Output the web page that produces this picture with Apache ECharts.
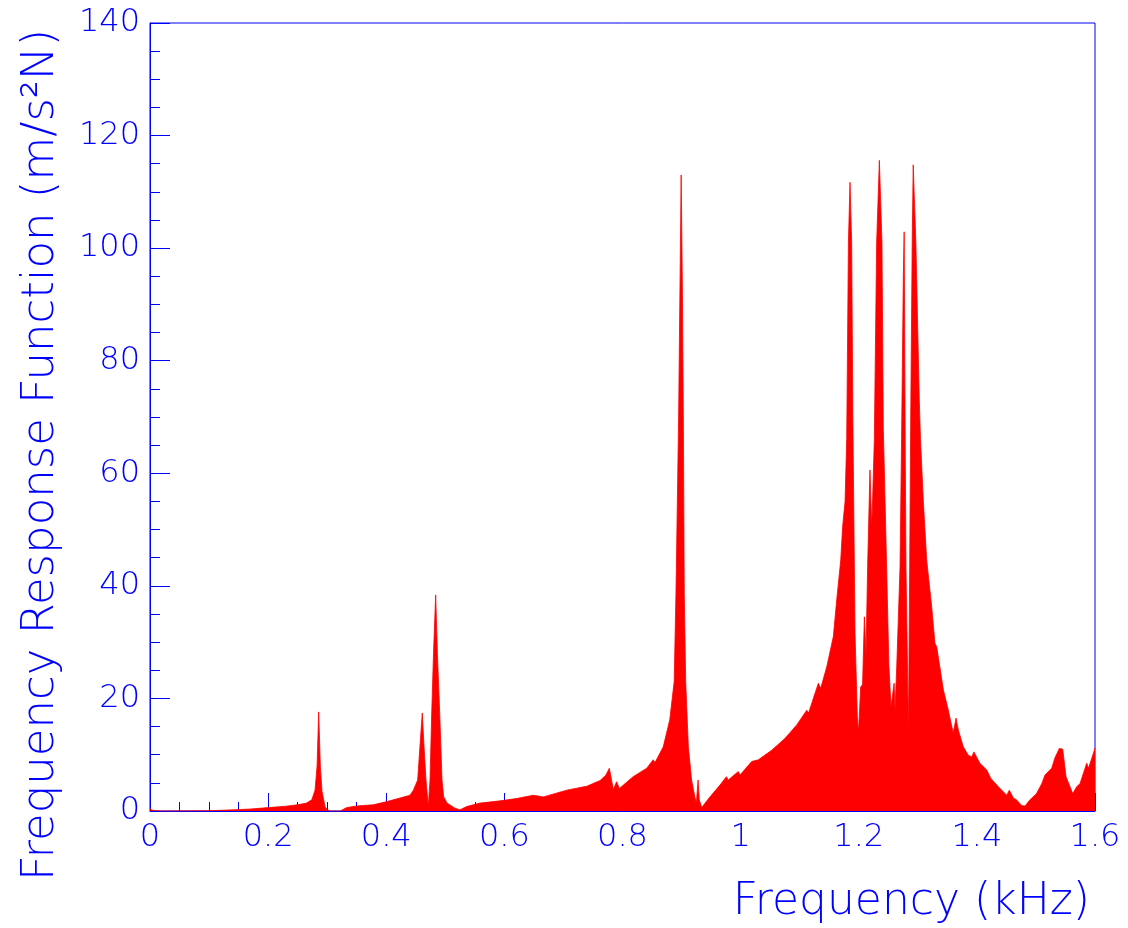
<!DOCTYPE html>
<html>
<head>
<meta charset="utf-8">
<title>Frequency Response Function</title>
<script src="https://cdn.jsdelivr.net/npm/echarts@6/dist/echarts.min.js"></script>
<style>
  html, body { margin: 0; padding: 0; background: #ffffff; }
  #chart { width: 1128px; height: 928px; }
</style>
</head>
<body>
<div id="chart"></div>
<script>
// Measured spectrum: frequency (kHz) and FRF magnitude (m/s^2/N)
const freqKHz = [
  0.000, 0.005, 0.020, 0.100, 0.140, 0.170, 0.200, 0.230, 0.250, 0.265,
  0.274, 0.2794, 0.2829, 0.2856, 0.2884, 0.2912, 0.2963, 0.300, 0.305, 0.322,
  0.333, 0.350, 0.378, 0.398, 0.4233, 0.4402, 0.4459, 0.4532, 0.457, 0.461,
  0.464, 0.4673, 0.4712, 0.4741, 0.4770, 0.4800, 0.4837, 0.4866, 0.4905, 0.4944,
  0.4973, 0.5030, 0.5164, 0.5249, 0.5362, 0.5587, 0.5926, 0.620, 0.649, 0.666,
  0.7055, 0.7394, 0.762, 0.772, 0.7777, 0.7845, 0.790, 0.7947, 0.818, 0.841,
  0.852, 0.855, 0.869, 0.880, 0.8875, 0.8905, 0.895, 0.8974, 0.8993, 0.9013,
  0.903, 0.9046, 0.907, 0.9115, 0.917, 0.9228, 0.925, 0.928, 0.930, 0.934,
  0.948, 0.965, 0.976, 0.979, 0.996, 0.999, 1.0188, 1.030, 1.0526, 1.075,
  1.095, 1.112, 1.115, 1.1316, 1.1356, 1.1458, 1.157, 1.1627, 1.1695, 1.1727,
  1.1768, 1.1796, 1.1825, 1.1852, 1.1880, 1.1900, 1.1937, 1.1976, 1.1996, 1.2032,
  1.2065, 1.2095, 1.2123, 1.2150, 1.2190, 1.2219, 1.2234, 1.2264, 1.2303, 1.2349,
  1.2393, 1.2416, 1.2473, 1.2510, 1.2546, 1.2562, 1.2599, 1.2614, 1.2643, 1.2699,
  1.2725, 1.2755, 1.2769, 1.2786, 1.2800, 1.2842, 1.2862, 1.2880, 1.2905, 1.2922,
  1.2967, 1.3000, 1.3025, 1.3045, 1.3094, 1.3150, 1.3235, 1.3290, 1.3320, 1.3433,
  1.3517, 1.3600, 1.3647, 1.3686, 1.3770, 1.3856, 1.3913, 1.3950, 1.4050, 1.4167,
  1.4235, 1.4364, 1.4506, 1.4550, 1.4617, 1.4670, 1.4760, 1.4815, 1.4900, 1.5010,
  1.5100, 1.5154, 1.5267, 1.5320, 1.5396, 1.5453, 1.5510, 1.5623, 1.5690, 1.5747,
  1.5860, 1.5890, 1.5990, 1.6000
];
const frf = [
  0.4, 0.1, 0.0, 0.05, 0.2, 0.35, 0.6, 0.85, 1.1, 1.4,
  2.0, 3.7, 8.0, 17.6, 8.0, 3.5, 0.8, 0.2, 0.0, 0.0,
  0.6, 0.9, 1.1, 1.6, 2.3, 2.8, 3.7, 5.5, 11.4, 17.4,
  11.4, 5.5, 0.8, 5.5, 17.4, 28.0, 38.4, 28.0, 17.4, 5.5,
  2.5, 1.4, 0.5, 0.2, 0.8, 1.4, 1.8, 2.2, 2.8, 2.5,
  3.7, 4.4, 5.4, 6.4, 7.6, 3.8, 5.2, 4.0, 6.1, 7.6,
  9.1, 8.6, 11.4, 16.2, 23.0, 38.5, 70.0, 94.0, 113.0, 94.0,
  70.0, 38.5, 23.0, 11.4, 5.5, 2.3, 1.4, 5.5, 2.0, 0.6,
  2.5, 4.6, 6.1, 5.5, 7.0, 6.4, 8.8, 9.1, 10.8, 12.9,
  15.3, 17.9, 17.4, 22.7, 21.8, 25.6, 31.0, 37.5, 44.6, 50.5,
  55.0, 66.0, 101.0, 111.7, 101.0, 70.0, 31.6, 16.8, 14.0, 22.0,
  22.5, 34.5, 27.7, 43.4, 60.6, 50.5, 55.0, 66.0, 101.0, 115.6,
  101.0, 68.0, 43.0, 26.0, 18.5, 18.5, 22.7, 17.9, 25.6, 43.4,
  66.0, 95.0, 102.9, 66.0, 43.0, 14.0, 43.0, 70.0, 101.0, 114.8,
  101.0, 85.0, 73.0, 66.0, 55.0, 44.6, 36.3, 29.8, 29.2, 21.5,
  17.9, 13.8, 16.5, 14.4, 11.4, 9.9, 9.6, 10.5, 8.5, 7.3,
  5.8, 4.3, 2.8, 3.7, 2.3, 2.0, 0.95, 0.9, 2.0, 3.1,
  4.9, 6.4, 7.6, 9.4, 11.1, 11.0, 6.1, 3.1, 4.3, 4.9,
  8.5, 7.6, 10.8, 11.2
];

// Axis ranges and tick steps
const xRange = [0, 1.6];
const xStep = 0.2;
const yRange = [0, 140];
const yStep = 20;

const xTitle = 'Frequency (kHz)';
const yTitle = 'Frequency Response Function (m/s\u00B2N)';

const BLUE = '#0000ff';
const FONT = 'DejaVu Sans';

const chart = echarts.init(document.getElementById('chart'), null, { renderer: 'canvas' });

const points = freqKHz.map((f, i) => [f, frf[i]]);

chart.setOption({
  animation: false,
  backgroundColor: '#ffffff',
  grid: {
    left: 150, right: 33, top: 23, bottom: 117,
    show: true, borderColor: BLUE, borderWidth: 1, backgroundColor: 'transparent'
  },
  xAxis: {
    type: 'value',
    min: xRange[0], max: xRange[1], interval: xStep,
    axisLine: { show: true, onZero: false, lineStyle: { color: BLUE, width: 1 } },
    axisTick: { show: true, inside: true, length: 18, lineStyle: { color: BLUE, width: 1 } },
    minorTick: { show: true, splitNumber: 4, length: 9, lineStyle: { color: BLUE, width: 1 } },
    splitLine: { show: false },
    axisLabel: { color: BLUE, fontFamily: FONT, fontWeight: 200, fontSize: 32, margin: 11 },
    name: xTitle,
    nameLocation: 'end',
    nameGap: -5,
    nameTextStyle: {
      color: BLUE, fontFamily: FONT, fontWeight: 200, fontSize: 44,
      align: 'right', verticalAlign: 'top', padding: [70, 0, 0, 0]
    }
  },
  yAxis: {
    type: 'value',
    min: yRange[0], max: yRange[1], interval: yStep,
    axisLine: { show: true, lineStyle: { color: BLUE, width: 1 } },
    axisTick: { show: true, inside: true, length: 20, lineStyle: { color: BLUE, width: 1 } },
    minorTick: { show: true, splitNumber: 4, length: 10, lineStyle: { color: BLUE, width: 1 } },
    splitLine: { show: false },
    axisLabel: { color: BLUE, fontFamily: FONT, fontWeight: 200, fontSize: 32, margin: 10 },
    name: yTitle,
    nameLocation: 'middle',
    nameRotate: 90,
    nameGap: 86,
    nameTextStyle: {
      color: BLUE, fontFamily: FONT, fontWeight: 200, fontSize: 45,
      padding: [0, 76, 0, 0]
    }
  },
  series: [{
    type: 'line',
    data: points,
    showSymbol: false,
    smooth: false,
    lineStyle: { color: '#ff0000', width: 0.8 },
    areaStyle: { color: '#ff0000', opacity: 1 },
    z: 1
  }]
});
</script>
</body>
</html>
